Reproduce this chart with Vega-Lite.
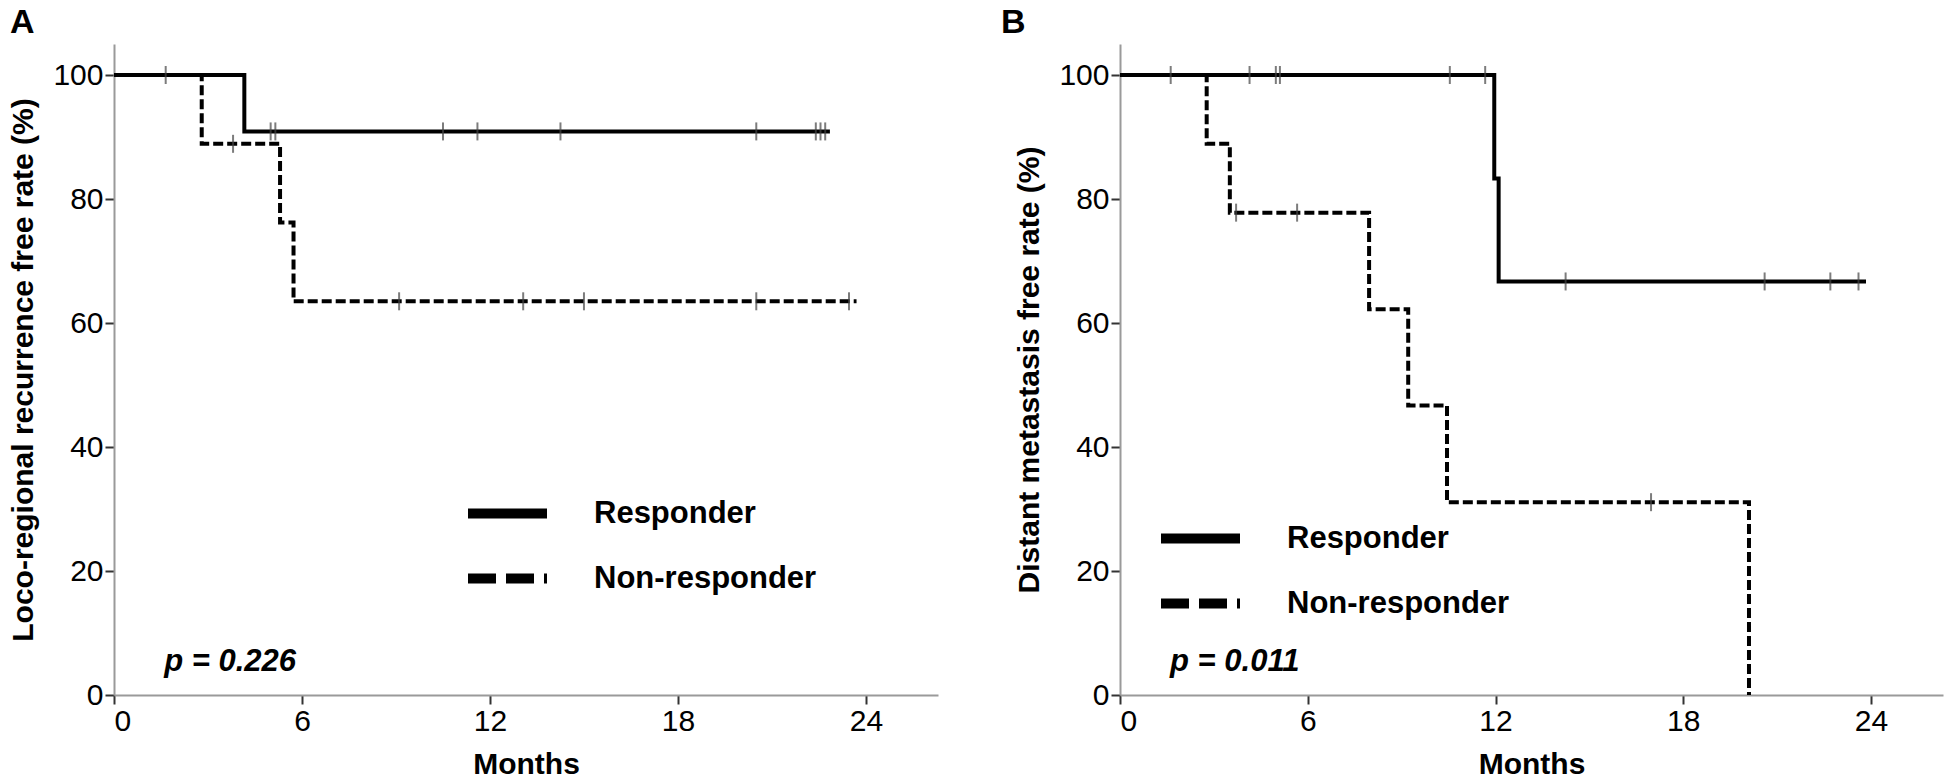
{
  "$schema": "https://vega.github.io/schema/vega-lite/v6.json",
  "background": "white",
  "padding": {"left": 8, "top": 6, "right": 2, "bottom": 0},
  "config": {
    "view": {"stroke": null},
    "font": "Liberation Sans",
    "axis": {
      "grid": false,
      "domainColor": "#9a9a9a",
      "domainWidth": 2,
      "tickColor": "#333333",
      "tickWidth": 2,
      "tickSize": 9,
      "labelFont": "Liberation Sans",
      "labelFontSize": 30,
      "labelColor": "#000000",
      "labelPadding": 2,
      "titleFont": "Liberation Sans",
      "titleFontSize": 30,
      "titleFontWeight": "bold",
      "titleColor": "#000000"
    },
    "legend": {
      "title": null,
      "orient": "none",
      "symbolType": "stroke",
      "symbolSize": 6241,
      "symbolStrokeWidth": 10,
      "symbolStrokeColor": "#000000",
      "symbolOpacity": 1,
      "labelFontSize": 31,
      "labelFontWeight": "bold",
      "labelFont": "Liberation Sans",
      "labelColor": "#000000",
      "labelLimit": 500,
      "labelOffset": 42,
      "rowPadding": -27,
      "padding": 0
    },
    "concat": {"spacing": 63}
  },
  "datasets": {
    "curves": [
      {"panel": "A", "group": "Responder", "month": 0, "rate": 100},
      {"panel": "A", "group": "Responder", "month": 4.16, "rate": 90.9},
      {"panel": "A", "group": "Responder", "month": 22.85, "rate": 90.9},
      {"panel": "A", "group": "Non-responder", "month": 0, "rate": 100},
      {"panel": "A", "group": "Non-responder", "month": 2.8, "rate": 88.9},
      {"panel": "A", "group": "Non-responder", "month": 5.3, "rate": 76.2},
      {"panel": "A", "group": "Non-responder", "month": 5.73, "rate": 63.5},
      {"panel": "A", "group": "Non-responder", "month": 23.7, "rate": 63.5},
      {"panel": "B", "group": "Responder", "month": 0, "rate": 100},
      {"panel": "B", "group": "Responder", "month": 11.96, "rate": 83.3},
      {"panel": "B", "group": "Responder", "month": 12.1, "rate": 66.7},
      {"panel": "B", "group": "Responder", "month": 23.84, "rate": 66.7},
      {"panel": "B", "group": "Non-responder", "month": 0, "rate": 100},
      {"panel": "B", "group": "Non-responder", "month": 2.77, "rate": 88.9},
      {"panel": "B", "group": "Non-responder", "month": 3.51, "rate": 77.8},
      {"panel": "B", "group": "Non-responder", "month": 7.96, "rate": 62.2},
      {"panel": "B", "group": "Non-responder", "month": 9.21, "rate": 46.7},
      {"panel": "B", "group": "Non-responder", "month": 10.45, "rate": 31.1},
      {"panel": "B", "group": "Non-responder", "month": 20.1, "rate": 0}
    ],
    "censors": [
      {"panel": "A", "group": "Responder", "month": 1.65, "rate": 100},
      {"panel": "A", "group": "Responder", "month": 5.0, "rate": 90.9},
      {"panel": "A", "group": "Responder", "month": 5.15, "rate": 90.9},
      {"panel": "A", "group": "Responder", "month": 10.5, "rate": 90.9},
      {"panel": "A", "group": "Responder", "month": 11.6, "rate": 90.9},
      {"panel": "A", "group": "Responder", "month": 14.25, "rate": 90.9},
      {"panel": "A", "group": "Responder", "month": 20.5, "rate": 90.9},
      {"panel": "A", "group": "Responder", "month": 22.4, "rate": 90.9},
      {"panel": "A", "group": "Responder", "month": 22.55, "rate": 90.9},
      {"panel": "A", "group": "Responder", "month": 22.7, "rate": 90.9},
      {"panel": "A", "group": "Non-responder", "month": 3.8, "rate": 88.9},
      {"panel": "A", "group": "Non-responder", "month": 9.1, "rate": 63.5},
      {"panel": "A", "group": "Non-responder", "month": 13.06, "rate": 63.5},
      {"panel": "A", "group": "Non-responder", "month": 15.0, "rate": 63.5},
      {"panel": "A", "group": "Non-responder", "month": 20.5, "rate": 63.5},
      {"panel": "A", "group": "Non-responder", "month": 23.46, "rate": 63.5},
      {"panel": "B", "group": "Responder", "month": 1.62, "rate": 100},
      {"panel": "B", "group": "Responder", "month": 4.14, "rate": 100},
      {"panel": "B", "group": "Responder", "month": 4.98, "rate": 100},
      {"panel": "B", "group": "Responder", "month": 5.11, "rate": 100},
      {"panel": "B", "group": "Responder", "month": 10.54, "rate": 100},
      {"panel": "B", "group": "Responder", "month": 11.67, "rate": 100},
      {"panel": "B", "group": "Responder", "month": 14.24, "rate": 66.7},
      {"panel": "B", "group": "Responder", "month": 20.6, "rate": 66.7},
      {"panel": "B", "group": "Responder", "month": 22.7, "rate": 66.7},
      {"panel": "B", "group": "Responder", "month": 23.6, "rate": 66.7},
      {"panel": "B", "group": "Non-responder", "month": 3.71, "rate": 77.8},
      {"panel": "B", "group": "Non-responder", "month": 5.66, "rate": 77.8},
      {"panel": "B", "group": "Non-responder", "month": 16.97, "rate": 31.1}
    ],
    "notes": [
      {"panel": "A", "label": "p = 0.226", "month": 1.6, "rate": 5.3},
      {"panel": "B", "label": "p = 0.011", "month": 1.6, "rate": 5.3}
    ]
  },
  "hconcat": [
    {
      "title": {"text": "A", "anchor": "start", "frame": "group", "dx": -104, "fontSize": 34, "fontWeight": "bold", "color": "#000000", "offset": 4, "font": "Liberation Sans"},
      "width": 824,
      "height": 651,
      "layer": [
        {
          "data": {"name": "curves"},
          "transform": [{"filter": "datum.panel === 'A'"}],
          "mark": {"type": "line", "interpolate": "step-after", "color": "#000000", "strokeWidth": 4},
          "encoding": {
            "x": {"field": "month", "type": "quantitative", "scale": {"domain": [0, 26.3], "nice": false, "zero": false}, "axis": {"values": [0, 6, 12, 18, 24], "title": "Months", "titlePadding": 13}},
            "y": {"field": "rate", "type": "quantitative", "scale": {"domain": [0, 105], "nice": false}, "axis": {"values": [0, 20, 40, 60, 80, 100], "title": "Loco-regional recurrence free rate (%)", "titlePadding": 14}},
            "strokeDash": {
              "field": "group", "type": "nominal",
              "scale": {"domain": ["Responder", "Non-responder"], "range": [[1, 0], [10, 4]]},
              "legend": null
            }
          }
        },
        {
          "data": {"name": "curves"},
          "transform": [{"filter": "datum.panel === 'A'"}],
          "mark": {"type": "line", "interpolate": "step-after", "color": "#000000", "opacity": 0},
          "encoding": {
            "x": {"field": "month", "type": "quantitative"},
            "y": {"field": "rate", "type": "quantitative"},
            "strokeDash": {
              "field": "group", "type": "nominal",
              "scale": {"domain": ["Responder", "Non-responder"], "range": [[1, 0], [28, 10]]},
              "legend": {"legendX": 349, "legendY": 425}
            }
          }
        },
        {
          "data": {"name": "censors"},
          "transform": [{"filter": "datum.panel === 'A'"}],
          "mark": {"type": "tick", "orient": "vertical", "color": "#444444", "thickness": 2, "size": 18},
          "encoding": {
            "x": {"field": "month", "type": "quantitative"},
            "y": {"field": "rate", "type": "quantitative"}
          }
        },
        {
          "data": {"name": "notes"},
          "transform": [{"filter": "datum.panel === 'A'"}],
          "mark": {"type": "text", "align": "left", "baseline": "middle", "fontSize": 31, "fontWeight": "bold", "fontStyle": "italic", "color": "#000000"},
          "encoding": {
            "x": {"field": "month", "type": "quantitative"},
            "y": {"field": "rate", "type": "quantitative"},
            "text": {"field": "label", "type": "nominal"}
          }
        }
      ],
      "resolve": {"scale": {"strokeDash": "independent"}, "legend": {"strokeDash": "independent"}}
    },
    {
      "title": {"text": "B", "anchor": "start", "frame": "group", "dx": -119, "fontSize": 34, "fontWeight": "bold", "color": "#000000", "offset": 4, "font": "Liberation Sans"},
      "width": 823,
      "height": 651,
      "layer": [
        {
          "data": {"name": "curves"},
          "transform": [{"filter": "datum.panel === 'B'"}],
          "mark": {"type": "line", "interpolate": "step-after", "color": "#000000", "strokeWidth": 4},
          "encoding": {
            "x": {"field": "month", "type": "quantitative", "scale": {"domain": [0, 26.3], "nice": false, "zero": false}, "axis": {"values": [0, 6, 12, 18, 24], "title": "Months", "titlePadding": 13}},
            "y": {"field": "rate", "type": "quantitative", "scale": {"domain": [0, 105], "nice": false}, "axis": {"values": [0, 20, 40, 60, 80, 100], "title": "Distant metastasis free rate (%)", "titlePadding": 14}},
            "strokeDash": {
              "field": "group", "type": "nominal",
              "scale": {"domain": ["Responder", "Non-responder"], "range": [[1, 0], [10, 4]]},
              "legend": null
            }
          }
        },
        {
          "data": {"name": "curves"},
          "transform": [{"filter": "datum.panel === 'B'"}],
          "mark": {"type": "line", "interpolate": "step-after", "color": "#000000", "opacity": 0},
          "encoding": {
            "x": {"field": "month", "type": "quantitative"},
            "y": {"field": "rate", "type": "quantitative"},
            "strokeDash": {
              "field": "group", "type": "nominal",
              "scale": {"domain": ["Responder", "Non-responder"], "range": [[1, 0], [28, 10]]},
              "legend": {"legendX": 36, "legendY": 450}
            }
          }
        },
        {
          "data": {"name": "censors"},
          "transform": [{"filter": "datum.panel === 'B'"}],
          "mark": {"type": "tick", "orient": "vertical", "color": "#444444", "thickness": 2, "size": 18},
          "encoding": {
            "x": {"field": "month", "type": "quantitative"},
            "y": {"field": "rate", "type": "quantitative"}
          }
        },
        {
          "data": {"name": "notes"},
          "transform": [{"filter": "datum.panel === 'B'"}],
          "mark": {"type": "text", "align": "left", "baseline": "middle", "fontSize": 31, "fontWeight": "bold", "fontStyle": "italic", "color": "#000000"},
          "encoding": {
            "x": {"field": "month", "type": "quantitative"},
            "y": {"field": "rate", "type": "quantitative"},
            "text": {"field": "label", "type": "nominal"}
          }
        }
      ],
      "resolve": {"scale": {"strokeDash": "independent"}, "legend": {"strokeDash": "independent"}}
    }
  ],
  "resolve": {"scale": {"strokeDash": "independent"}, "legend": {"strokeDash": "independent"}}
}
